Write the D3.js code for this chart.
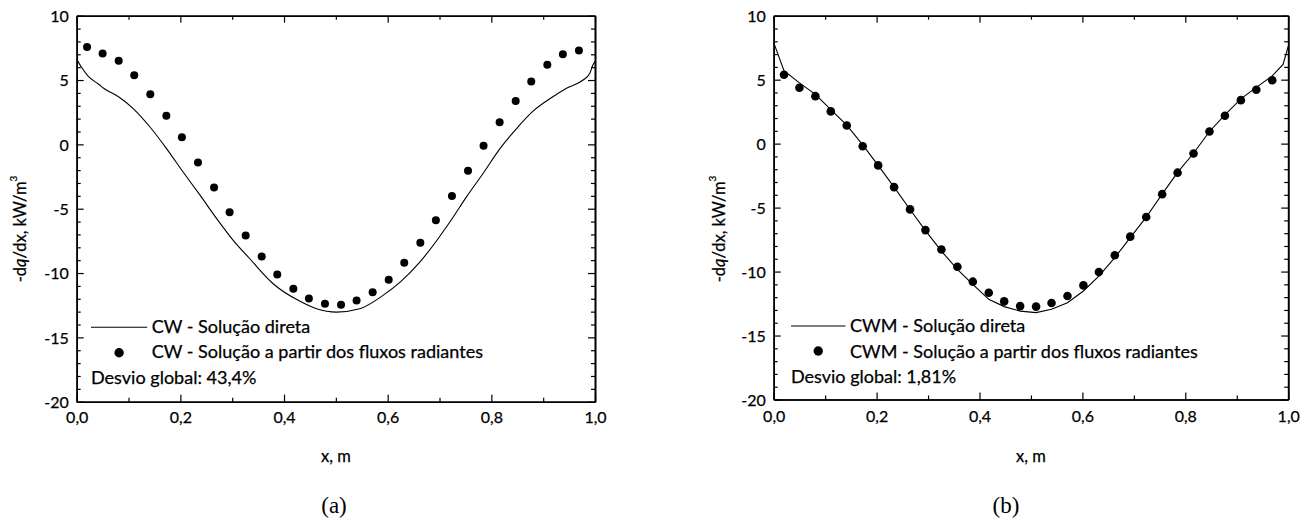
<!DOCTYPE html>
<html><head><meta charset="utf-8">
<script src="https://cdn.jsdelivr.net/npm/d3@7"></script>
<style>body{margin:0;background:#fff}svg{display:block}svg text{stroke:#000;stroke-width:0.25px}</style>
</head><body><svg id="c" width="1311" height="524"></svg>
<script>
// ---------------- data ----------------
const xTicks = [0, 0.2, 0.4, 0.6, 0.8, 1.0];
const xMinorTicks = [0.1, 0.3, 0.5, 0.7, 0.9];
const yTicks = [10, 5, 0, -5, -10, -15, -20];
const yMinorTicks = [9,8,7,6,4,3,2,1,-1,-2,-3,-4,-6,-7,-8,-9,-11,-12,-13,-14,-16,-17,-18,-19];

// x positions of the discrete (radiant-flux) points
const pointX = [0.020,0.050,0.081,0.111,0.142,0.173,0.203,0.234,0.265,0.295,0.326,0.357,0.387,0.418,0.448,0.479,
                0.510,0.540,0.571,0.602,0.632,0.663,0.693,0.724,0.755,0.785,0.816,0.847,0.877,0.908,0.938,0.969];
// (a) CW - Solução a partir dos fluxos radiantes
const cwPoints = [7.56,7.06,6.49,5.38,3.90,2.23,0.55,-1.40,-3.35,-5.28,-7.09,-8.71,-10.11,-11.22,-11.98,-12.39,
                  -12.47,-12.14,-11.49,-10.52,-9.20,-7.64,-5.90,-4.01,-2.06,-0.11,1.71,3.37,4.88,6.18,7.01,7.30];
// (b) CWM - Solução a partir dos fluxos radiantes
const cwmPoints = [5.38,4.37,3.71,2.52,1.42,-0.20,-1.70,-3.40,-5.14,-6.76,-8.27,-9.62,-10.79,-11.65,-12.33,-12.70,
                   -12.74,-12.46,-11.91,-11.08,-10.04,-8.73,-7.27,-5.74,-3.95,-2.27,-0.77,0.95,2.18,3.40,4.21,4.96];

// (a) CW - Solução direta
const cwLineX = [0.000,0.010,0.022,0.043,0.052,0.080,0.109,0.141,0.173,0.205,0.238,0.270,0.302,0.334,0.379,0.431,
                 0.463,0.501,0.546,0.591,0.624,0.662,0.720,0.752,0.784,0.817,0.849,0.881,0.915,0.945,0.977,0.990,0.996,1.000];
const cwLineY = [6.61,5.95,5.31,4.65,4.36,3.72,2.78,1.37,-0.31,-2.13,-3.95,-5.77,-7.46,-8.89,-10.83,-12.20,
                 -12.78,-13.04,-12.78,-11.74,-10.71,-9.15,-6.03,-4.08,-2.26,-0.31,1.25,2.60,3.60,4.36,5.00,5.52,6.17,6.43];
// (b) CWM - Solução direta
const cwmLineX = [0.000,0.020,0.050,0.081,0.111,0.142,0.173,0.203,0.234,0.265,0.295,0.326,0.357,0.387,0.418,0.448,
                  0.479,0.510,0.540,0.571,0.602,0.632,0.663,0.693,0.724,0.755,0.785,0.816,0.847,0.877,0.908,0.938,0.969,0.990,1.000];
const cwmLineY = [7.90,5.70,4.75,3.85,2.65,1.45,-0.10,-1.70,-3.40,-5.15,-6.80,-8.40,-9.83,-11.00,-12.17,-12.74,
                  -13.09,-13.21,-12.95,-12.43,-11.52,-10.35,-8.91,-7.35,-5.75,-3.95,-2.25,-0.75,0.95,2.25,3.50,4.40,5.30,6.19,7.60];

const legendA = ["CW - Solução direta", "CW - Solução a partir dos fluxos radiantes", "Desvio global: 43,4%"];
const legendB = ["CWM - Solução direta", "CWM - Solução a partir dos fluxos radiantes", "Desvio global: 1,81%"];
const panelLabels = ["(a)", "(b)"];

// ---------------- drawing ----------------
const svg = d3.select("#c");
const FONT = "Lato, 'Open Sans', sans-serif";
const loc = d3.formatLocale({decimal: ",", thousands: ".", grouping: [3], currency: ["", ""], minus: "-"});
const fx = loc.format(".1f"), fy = loc.format("d");

const panels = [
  {left: 76.7, right: 595, top: 15.7, bottom: 401.7, lx: cwLineX, ly: cwLineY, py: cwPoints,
   curve: d3.curveMonotoneX, r: 4, legend: legendA, label: panelLabels[0],
   legX: 91, lineY: 327.3, markerY: 352.7, textX: 151.7, base: [333.3, 358.3, 383.5], textW: 331.6,
   ylabX: 26, ylabY: 229, xlabY: 462, tickLabY: 423, subX: 334},
  {left: 773.7, right: 1288.2, top: 15.7, bottom: 399.5, lx: cwmLineX, ly: cwmLineY, py: cwmPoints,
   curve: d3.curveLinear, r: 4.3, legend: legendB, label: panelLabels[1],
   legX: 791, lineY: 326, markerY: 351, textX: 850, base: [332.3, 358.3, 383.3], textW: 348,
   ylabX: 725, ylabY: 229, xlabY: 462, tickLabY: 421.7, subX: 1006}
];

panels.forEach(p => {
  const g = svg.append("g");
  const x = d3.scaleLinear().domain([0, 1]).range([p.left, p.right]);
  const y = d3.scaleLinear().domain([-20, 10]).range([p.bottom, p.top]);

  const styleAxis = (sel) => {
    sel.select(".domain").attr("stroke", "#000").attr("stroke-width", 1.6);
    sel.selectAll(".tick line").attr("stroke", "#000").attr("stroke-width", 1.2);
    sel.selectAll("text").attr("font-family", FONT).attr("font-size", 16).attr("fill", "#000");
  };

  // minor ticks
  g.append("g").attr("transform", `translate(0,${p.bottom})`)
    .call(d3.axisBottom(x).tickValues(xMinorTicks).tickSize(-4).tickSizeOuter(0).tickFormat(""))
    .call(styleAxis);
  g.append("g").attr("transform", `translate(0,${p.top})`)
    .call(d3.axisTop(x).tickValues(xMinorTicks).tickSize(-4).tickSizeOuter(0).tickFormat(""))
    .call(styleAxis);
  g.append("g").attr("transform", `translate(${p.left},0)`)
    .call(d3.axisLeft(y).tickValues(yMinorTicks).tickSize(-4).tickSizeOuter(0).tickFormat(""))
    .call(styleAxis);
  g.append("g").attr("transform", `translate(${p.right},0)`)
    .call(d3.axisRight(y).tickValues(yMinorTicks).tickSize(-4).tickSizeOuter(0).tickFormat(""))
    .call(styleAxis);

  // major ticks
  const bx = g.append("g").attr("transform", `translate(0,${p.bottom})`)
    .call(d3.axisBottom(x).tickValues(xTicks).tickSize(-7).tickSizeOuter(0).tickFormat(fx).tickPadding(9))
    .call(styleAxis);
  bx.selectAll("text").attr("y", null).attr("dy", null).attr("transform", `translate(0,${p.tickLabY - p.bottom})`);
  g.append("g").attr("transform", `translate(0,${p.top})`)
    .call(d3.axisTop(x).tickValues(xTicks).tickSize(-7).tickSizeOuter(0).tickFormat(""))
    .call(styleAxis);
  const ly = g.append("g").attr("transform", `translate(${p.left},0)`)
    .call(d3.axisLeft(y).tickValues(yTicks).tickSize(-7).tickSizeOuter(0).tickFormat(fy))
    .call(styleAxis);
  ly.selectAll("text").attr("x", -8).attr("dy", "0.36em");
  g.append("g").attr("transform", `translate(${p.right},0)`)
    .call(d3.axisRight(y).tickValues(yTicks).tickSize(-7).tickSizeOuter(0).tickFormat(""))
    .call(styleAxis);

  // direct solution curve
  const lineData = p.lx.map((v, i) => [v, p.ly[i]]);
  g.append("path").datum(lineData)
    .attr("fill", "none").attr("stroke", "#000").attr("stroke-width", 1.1)
    .attr("d", d3.line().x(d => x(d[0])).y(d => y(d[1])).curve(p.curve));

  // radiant-flux points
  g.selectAll("circle.pt").data(pointX.map((v, i) => [v, p.py[i]])).join("circle")
    .attr("class", "pt").attr("cx", d => x(d[0])).attr("cy", d => y(d[1])).attr("r", p.r).attr("fill", "#000");

  // legend
  g.append("line").attr("x1", p.legX).attr("x2", p.textX - 4.5).attr("y1", p.lineY).attr("y2", p.lineY)
    .attr("stroke", "#000").attr("stroke-width", 1.1);
  g.append("circle").attr("cx", (p.legX + p.textX - 4.5) / 2).attr("cy", p.markerY).attr("r", 4.7).attr("fill", "#000");
  const t = p.legend.map((s, i) => g.append("text")
    .attr("x", i === 2 ? p.legX : p.textX).attr("y", p.base[i])
    .attr("font-family", FONT).attr("font-size", 17).attr("fill", "#000").text(s));
  const w = t[1].node().getComputedTextLength();
  const fs = 17 * p.textW / w;
  t.forEach(s => s.attr("font-size", fs));

  // y axis label
  const yl = g.append("text").attr("transform", `translate(${p.ylabX},${p.ylabY}) rotate(-90)`)
    .attr("text-anchor", "middle").attr("font-family", FONT).attr("font-size", 16.5).attr("fill", "#000");
  yl.append("tspan").text("-d");
  yl.append("tspan").attr("font-style", "italic").text("q");
  yl.append("tspan").text("/dx, kW/m");
  yl.append("tspan").attr("font-size", 10).attr("dy", -9).text("3");

  // x axis label
  g.append("text").attr("x", (p.left + p.right) / 2).attr("y", p.xlabY).attr("text-anchor", "middle")
    .attr("font-family", FONT).attr("font-size", 16.5).attr("fill", "#000").text("x, m");

  // panel label
  g.append("text").attr("x", p.subX).attr("y", 513).attr("text-anchor", "middle").style("stroke-width", "0px")
    .attr("font-family", "'Liberation Serif', 'Times New Roman', serif").attr("font-size", 23).attr("fill", "#000").text(p.label);
});
</script>
</body></html>
